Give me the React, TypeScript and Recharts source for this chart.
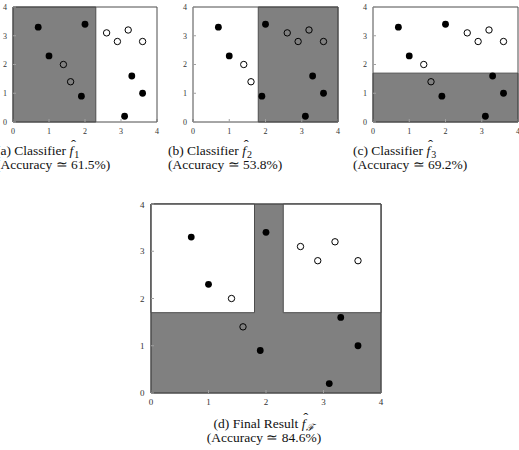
import { ReactNode } from 'react'
import { ReferenceArea, Scatter, ScatterChart, XAxis, YAxis } from 'recharts'

// data points (two classes)
const filledX = [0.7, 2.0, 1.0, 1.9, 3.3, 3.6, 3.1]
const filledY = [3.3, 3.4, 2.3, 0.9, 1.6, 1.0, 0.2]
const hollowX = [1.4, 1.6, 2.6, 2.9, 3.2, 3.6]
const hollowY = [2.0, 1.4, 3.1, 2.8, 3.2, 2.8]

const TICKS = [0, 1, 2, 3, 4]

// thresholds of the three weak classifiers
const CUT_1 = 2.3
const CUT_2 = 1.8
const CUT_3 = 1.7

const ACCURACY = ['61.5%', '53.8%', '69.2%', '84.6%']

const filled = filledX.map((x, i) => ({ x, y: filledY[i] }))
const hollow = hollowX.map((x, i) => ({ x, y: hollowY[i] }))

const GRAY = '#808080'
const FRAME = '#4d4d4d'
const TICK = '#a0a0a0'
const FONT = '"Liberation Serif", "Times New Roman", serif'

const Filled = (p: any) => <circle cx={p.cx} cy={p.cy} r={3.4} fill="#000" />
const Hollow = (p: any) => (
  <circle cx={p.cx} cy={p.cy} r={3.2} fill="none" stroke="#000" strokeWidth={1} />
)

// space reserved for the axes around the plot box
const L = 24
const T = 4
const R = 4
const B = 22

type PanelProps = {
  left: number
  top: number
  w: number
  h: number
  fs: number
  xm: number
  ym: number
  areas: ReactNode
}

const Panel = ({ left, top, w, h, fs, xm, ym, areas }: PanelProps) => {
  const tick = { fontSize: fs, fill: '#333', stroke: 'none', fontFamily: FONT }
  return (
    <div style={{ position: 'absolute', left: left - L, top: top - T }}>
      <ScatterChart
        width={L + w + R}
        height={T + h + B}
        margin={{ top: 0, right: 0, bottom: 0, left: 0 }}
      >
        <XAxis
          xAxisId="b"
          type="number"
          dataKey="x"
          domain={[0, 4]}
          ticks={TICKS}
          height={B}
          tickSize={-3}
          tickMargin={xm}
          axisLine={{ stroke: FRAME }}
          tickLine={{ stroke: TICK }}
          tick={tick}
        />
        <XAxis
          xAxisId="t"
          orientation="top"
          type="number"
          dataKey="x"
          domain={[0, 4]}
          ticks={TICKS}
          height={T}
          tickSize={-3}
          axisLine={{ stroke: FRAME }}
          tickLine={{ stroke: TICK }}
          tick={false}
        />
        <YAxis
          yAxisId="l"
          type="number"
          dataKey="y"
          domain={[0, 4]}
          ticks={TICKS}
          width={L}
          tickSize={-3}
          tickMargin={ym}
          axisLine={{ stroke: FRAME }}
          tickLine={{ stroke: TICK }}
          tick={tick}
        />
        <YAxis
          yAxisId="r"
          orientation="right"
          type="number"
          dataKey="y"
          domain={[0, 4]}
          ticks={TICKS}
          width={R}
          tickSize={-3}
          axisLine={{ stroke: FRAME }}
          tickLine={{ stroke: TICK }}
          tick={false}
        />
        {areas}
        <Scatter
          xAxisId="b"
          yAxisId="l"
          data={filled}
          shape={Filled}
          isAnimationActive={false}
        />
        <Scatter
          xAxisId="b"
          yAxisId="l"
          data={hollow}
          shape={Hollow}
          isAnimationActive={false}
        />
      </ScatterChart>
    </div>
  )
}

const area = (key: string, x1: number, x2: number, y1: number, y2: number, fill: string) => (
  <ReferenceArea
    key={key}
    xAxisId="b"
    yAxisId="l"
    x1={x1}
    x2={x2}
    y1={y1}
    y2={y2}
    fill={fill}
    fillOpacity={1}
    stroke={FRAME}
    strokeWidth={1}
  />
)

const Hat = ({ sub }: { sub: ReactNode }) => (
  <span style={{ whiteSpace: 'nowrap' }}>
    <span style={{ position: 'relative', fontStyle: 'italic' }}>
      f
      <span
        style={{ position: 'absolute', left: 1.5, top: -4, fontStyle: 'normal', fontSize: 15 }}
      >
        ˆ
      </span>
    </span>
    <span style={{ position: 'relative', top: 3, fontSize: 10, marginLeft: 1 }}>{sub}</span>
  </span>
)

const Caption = ({
  left,
  top,
  center,
  line1,
  line2,
}: {
  left: number
  top: number
  center?: boolean
  line1: ReactNode
  line2: string
}) => (
  <div
    style={{
      position: 'absolute',
      left: center ? left - 100 : left,
      width: center ? 200 : undefined,
      top,
      fontFamily: FONT,
      fontSize: 13.5,
      lineHeight: '12.5px',
      color: '#111',
      whiteSpace: 'nowrap',
      textAlign: center ? 'center' : 'left',
    }}
  >
    <div>{line1}</div>
    <div>{line2}</div>
  </div>
)

const App = () => {
  return (
    <div
      style={{
        position: 'absolute',
        left: 0,
        top: 0,
        width: 519,
        height: 450,
        overflow: 'hidden',
        background: '#fff',
      }}
    >
      <Panel
        left={13}
        top={7}
        w={144}
        h={115}
        fs={8}
        xm={9.5}
        ym={9}
        areas={[area('a', 0, CUT_1, 0, 4, GRAY)]}
      />
      <Panel
        left={193}
        top={7}
        w={145}
        h={115}
        fs={8}
        xm={9.5}
        ym={9}
        areas={[area('b', CUT_2, 4, 0, 4, GRAY)]}
      />
      <Panel
        left={373}
        top={7}
        w={145}
        h={115}
        fs={8}
        xm={9.5}
        ym={9}
        areas={[area('c', 0, 4, 0, CUT_3, GRAY)]}
      />
      <Panel
        left={151}
        top={204}
        w={230}
        h={189}
        fs={9}
        xm={8.5}
        ym={9.5}
        areas={[
          area('d0', 0, 4, 0, 4, GRAY),
          area('d1', 0, CUT_2, CUT_3, 4, '#fff'),
          area('d2', CUT_1, 4, CUT_3, 4, '#fff'),
        ]}
      />
      <Caption
        left={-4}
        top={145}
        line1={<>(a) Classifier <Hat sub="1" /></>}
        line2={`(Accuracy \u2243 ${ACCURACY[0]})`}
      />
      <Caption
        left={168}
        top={145}
        line1={<>(b) Classifier <Hat sub="2" /></>}
        line2={`(Accuracy \u2243 ${ACCURACY[1]})`}
      />
      <Caption
        left={353}
        top={145}
        line1={<>(c) Classifier <Hat sub="3" /></>}
        line2={`(Accuracy \u2243 ${ACCURACY[2]})`}
      />
      <Caption
        left={264}
        top={418}
        center
        line1={<>(d) Final Result <Hat sub={<span style={{ fontStyle: 'italic' }}>ℱ</span>} /></>}
        line2={`(Accuracy \u2243 ${ACCURACY[3]})`}
      />
    </div>
  )
}

export default App
